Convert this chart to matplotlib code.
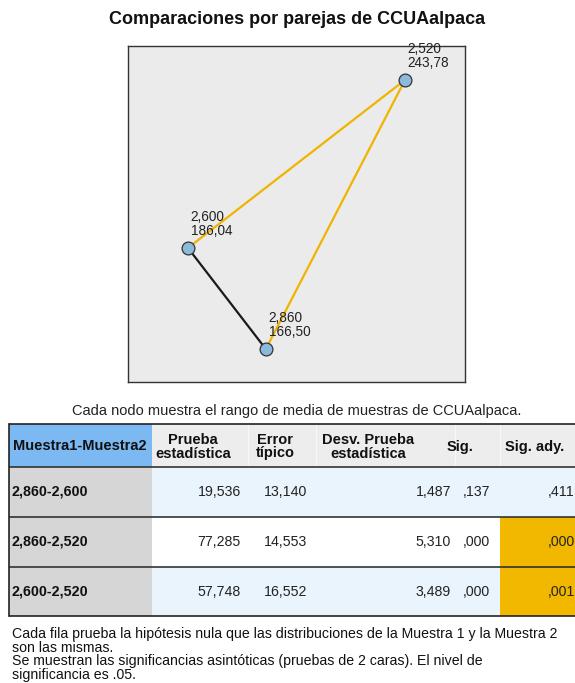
import matplotlib.pyplot as plt
from matplotlib.patches import Rectangle

plt.rcParams['font.family'] = ['Liberation Sans', 'DejaVu Sans']

# nodes: sample label, mean rank, layout position (0-1 in the graph box)
node_names = ["2,520", "2,600", "2,860"]
node_ranks = ["243,78", "186,04", "166,50"]
node_x = [0.822, 0.178, 0.409]
node_y = [0.899, 0.399, 0.098]

# edges between nodes (index pairs) and whether adjusted sig. < .05
edges = [(1, 2), (1, 0), (2, 0)]
edge_signif = [False, True, True]

# pairwise comparison table
pairs = ["2,860-2,600", "2,860-2,520", "2,600-2,520"]
test_stat = ["19,536", "77,285", "57,748"]
std_error = ["13,140", "14,553", "16,552"]
std_test_stat = ["1,487", "5,310", "3,489"]
sig = [",137", ",000", ",000"]
adj_sig = [",411", ",000", ",001"]
adj_sig_values = [0.411, 0.000, 0.001]

headers = ["Muestra1-Muestra2", "Prueba\nestadística", "Error\ntípico",
           "Desv. Prueba\nestadística", "Sig.", "Sig. ady."]

W, H = 575, 683
fig = plt.figure(figsize=(W / 100, H / 100), dpi=100)

# overlay axes in pixel coords for text + table
bg = fig.add_axes([0, 0, 1, 1])
bg.set_xlim(0, W)
bg.set_ylim(H, 0)
bg.axis('off')

bg.text(297, 20, "Comparaciones por parejas de CCUAalpaca", ha='center', va='center',
        fontsize=13, fontweight='bold', color='#111111')

# graph box
gx0, gy0, gx1, gy1 = 128, 46, 465, 382
ax = fig.add_axes([gx0 / W, 1 - gy1 / H, (gx1 - gx0) / W, (gy1 - gy0) / H])
ax.set_facecolor('#ebebeb')
ax.set_xlim(0, 1)
ax.set_ylim(0, 1)
ax.set_xticks([])
ax.set_yticks([])
for s in ax.spines.values():
    s.set_color('#333333')
    s.set_linewidth(1.0)

for (a, b), sg in zip(edges, edge_signif):
    ax.plot([node_x[a], node_x[b]], [node_y[a], node_y[b]],
            color='#f0b400' if sg else '#1a1a1a', lw=1.6, zorder=2)

ax.scatter(node_x, node_y, s=85, c='#8bbbdb', edgecolors='#333333', linewidths=0.9, zorder=3)
for i in range(len(node_names)):
    ax.annotate(node_names[i] + "\n" + node_ranks[i], (node_x[i], node_y[i]),
                xytext=(2, 7), textcoords='offset points', ha='left', va='bottom',
                fontsize=9.8, linespacing=1.0, color='#222222')

bg.text(297, 411, "Cada nodo muestra el rango de media de muestras de CCUAalpaca.",
        ha='center', va='center', fontsize=10.5, color='#222222')

# table layout (pixels)
tx0, tx1 = 9, 580
col_edges = [9, 152, 248, 316, 455, 500, 580]
row_edges = [424, 467, 517, 567, 616]
val_right = [241, 307, 451, 490, 575]

# header
bg.add_patch(Rectangle((col_edges[0], row_edges[0]), col_edges[1] - col_edges[0],
                       row_edges[1] - row_edges[0], fc='#7cb8f2', ec='none'))
bg.add_patch(Rectangle((col_edges[1], row_edges[0]), tx1 - col_edges[1],
                       row_edges[1] - row_edges[0], fc='#ededed', ec='none'))
for x in col_edges[2:-1]:
    bg.plot([x, x], [row_edges[0], row_edges[1]], color='#f8f8f8', lw=0.8)
centers = [80, 193, 275, 368, 460, 535]
for c, h in zip(centers, headers):
    bg.text(c, (row_edges[0] + row_edges[1]) / 2 + 1, h, ha='center', va='center',
            fontsize=10.5, fontweight='bold', linespacing=1.0, color='#111111')

cols = [test_stat, std_error, std_test_stat, sig, adj_sig]
for r in range(len(pairs)):
    y0, y1 = row_edges[r + 1], row_edges[r + 2]
    body = '#eaf4fd' if r % 2 == 0 else '#ffffff'
    bg.add_patch(Rectangle((col_edges[0], y0), col_edges[1] - col_edges[0], y1 - y0,
                           fc='#d6d6d6', ec='none'))
    bg.add_patch(Rectangle((col_edges[1], y0), tx1 - col_edges[1], y1 - y0,
                           fc=body, ec='none'))
    if adj_sig_values[r] < 0.05:
        bg.add_patch(Rectangle((col_edges[5], y0), tx1 - col_edges[5], y1 - y0,
                               fc='#f2b800', ec='none'))
    yc = (y0 + y1) / 2
    bg.text(12, yc, pairs[r], ha='left', va='center', fontsize=10.3,
            fontweight='bold', color='#111111')
    for j, col in enumerate(cols):
        bg.text(val_right[j], yc, col[r], ha='right', va='center', fontsize=10.2,
                color='#222222')

for i, y in enumerate(row_edges):
    bg.plot([tx0, tx1], [y, y], color='#222222' if i in (0, len(row_edges) - 1) else '#333333',
            lw=1.2, solid_capstyle='butt')
bg.plot([tx0, tx0], [row_edges[0], row_edges[-1]], color='#222222', lw=1.2)

notes = ["Cada fila prueba la hipótesis nula que las distribuciones de la Muestra 1 y la Muestra 2",
         "son las mismas.",
         "Se muestran las significancias asintóticas (pruebas de 2 caras). El nivel de",
         "significancia es .05."]
for k, line in enumerate(notes):
    bg.text(12, 634 + k * 13.5, line, ha='left', va='center', fontsize=10.2, color='#111111')

fig.savefig('out.png', dpi=100)
